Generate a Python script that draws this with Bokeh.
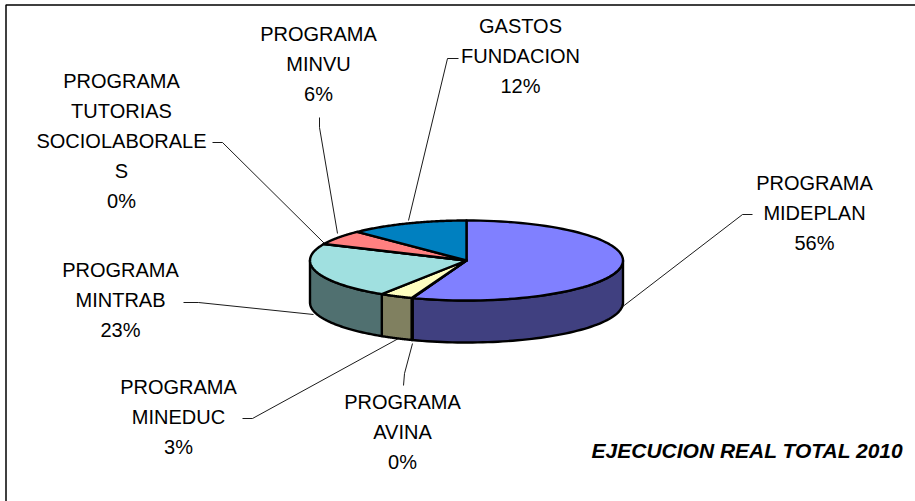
import numpy as np
from bokeh.plotting import figure
from bokeh.embed import file_html
from bokeh.resources import INLINE
from bokeh.core.properties import value

# ---- data
categories = ["PROGRAMA MIDEPLAN", "PROGRAMA AVINA", "PROGRAMA MINEDUC", "PROGRAMA MINTRAB",
              "PROGRAMA TUTORIAS SOCIOLABORALES", "PROGRAMA MINVU", "GASTOS FUNDACION"]
values = [55.6, 0.1, 3.4, 22.6, 0.1, 5.9, 12.3]
top_colors = ["#8080FF", "#FFFFC0", "#FFFFC0", "#A0E0E0", "#FF8080", "#FF8080", "#0080C0"]
side_colors = ["#404080", "#808060", "#808060", "#507070", "#804040", "#804040", "#004060"]
label_lines = [["PROGRAMA", "MIDEPLAN"], ["PROGRAMA", "AVINA"], ["PROGRAMA", "MINEDUC"],
               ["PROGRAMA", "MINTRAB"], ["PROGRAMA", "TUTORIAS", "SOCIOLABORALE", "S"],
               ["PROGRAMA", "MINVU"], ["GASTOS", "FUNDACION"]]
chart_title = "EJECUCION REAL TOTAL 2010"

# ---- layout
CX, CY, RX, RY, DEPTH = 466, 260, 156.5, 40, 42
label_x = [814, 402, 178, 120, 121, 318, 520]
label_y = [182, 401, 386, 269, 80, 33.5, 25.5]
leader_x = [[752, 742, 621], [403, 404, 412], [242, 252, 398], [183, 198, 313], [212, 222, 324], [319, 319, 337], [458, 447, 408]]
leader_y = [[214, 214, 307], [385, 373, 343], [418, 418, 338], [302, 302, 314], [142, 142, 243], [117, 127, 233], [58, 58, 220]]
FONT = "Liberation Sans"
LINE_H = 30

p = figure(width=915, height=501, x_range=(0, 915), y_range=(501, 0), output_backend="svg",
           toolbar_location=None, x_axis_type=None, y_axis_type=None, min_border=0,
           margin=0, outline_line_color=None, background_fill_color="white",
           border_fill_color="white",
           styles={"position": "absolute", "left": "0px", "top": "0px", "width": "915px", "height": "501px"})
p.grid.visible = False

# chart frame (its right and bottom edges fall outside the picture)
p.line([5.5, 5.5, 930], [520, 4.5, 4.5], line_color="black", line_width=1.5)

def pt(t, dy=0):
    return CX + RX * np.sin(t), CY - RY * np.cos(t) + dy

edges = np.radians(np.cumsum([0] + values) * 3.6)

# side wall: only the front half of the rim (90..270 degrees) is visible
for i in range(len(values)):
    a, b = max(edges[i], np.pi / 2), min(edges[i + 1], 3 * np.pi / 2)
    if b <= a:
        continue
    t = np.linspace(a, b, 60)
    xt, yt = pt(t)
    xb, yb = pt(t[::-1], DEPTH)
    p.patch(np.r_[xt, xb], np.r_[yt, yb], fill_color=side_colors[i], line_color="black",
            line_width=2.4, line_join="round")

# top face
for i in range(len(values)):
    t = np.linspace(edges[i], edges[i + 1], 80)
    x, y = pt(t)
    p.patch(np.r_[CX, x], np.r_[CY, y], fill_color=top_colors[i], line_color="black",
            line_width=2.4, line_join="round")

# leaders
for lx, ly in zip(leader_x, leader_y):
    p.line(lx, ly, line_color="black", line_width=0.9)

# labels
xs, ys, txt = [], [], []
for i in range(len(values)):
    lines = label_lines[i] + [f"{round(values[i]):d}%"]
    for j, s in enumerate(lines):
        xs.append(label_x[i]); ys.append(label_y[i] + j * LINE_H); txt.append(s)
p.text(xs, ys, text=txt, text_font=value(FONT), text_font_size="20px", text_color="black",
       text_align="center", text_baseline="middle")

p.text([747], [449.5], text=[chart_title], text_font=value(FONT), text_font_size="21px",
       text_font_style="bold italic", text_color="black", text_align="center", text_baseline="middle")

open("out.html", "w").write(file_html(p, INLINE))
